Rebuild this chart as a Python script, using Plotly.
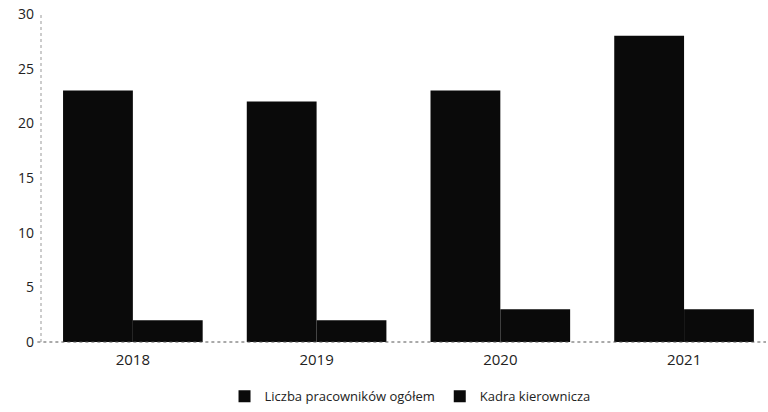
import plotly.graph_objects as go

years = ["2018", "2019", "2020", "2021"]
ogolem = [23, 22, 23, 28]
kadra = [2, 2, 3, 3]
y_ticks = [0, 5, 10, 15, 20, 25, 30]

fig = go.Figure()
fig.add_trace(go.Bar(name="Liczba pracowników ogółem", x=years, y=ogolem,
                     marker=dict(color="#0a0a0a", line=dict(width=0))))
fig.add_trace(go.Bar(name="Kadra kierownicza", x=years, y=kadra,
                     marker=dict(color="#0a0a0a", line=dict(width=0))))

fig.update_layout(
    width=768, height=412,
    margin=dict(l=41, r=2, t=14, b=70, autoexpand=False),
    paper_bgcolor="white", plot_bgcolor="white",
    barmode="group", bargap=0.24, bargroupgap=0,
    font=dict(family="Open Sans", size=13, color="#222"),
    showlegend=True,
    legend=dict(orientation="h", x=0.509, xanchor="center", y=-0.12, yanchor="top",
                font=dict(size=13, color="#222"), itemwidth=30),
    xaxis=dict(type="category", range=[-0.5, 3.446], showgrid=False,
               showline=False, ticks="", tickfont=dict(size=15),
               ticklabelstandoff=7, automargin=False),
    yaxis=dict(range=[0, 30], tickvals=y_ticks, showgrid=False, zeroline=False,
               showline=False, ticks="", tickfont=dict(size=14),
               ticklabelstandoff=6, automargin=False),
    shapes=[
        dict(type="line", xref="paper", yref="paper", x0=0, x1=0, y0=0, y1=1,
             line=dict(color="#999", width=1, dash="dot")),
        dict(type="line", xref="paper", yref="paper", x0=-0.005, x1=1, y0=0, y1=0,
             line=dict(color="#555", width=1, dash="dot")),
    ],
)
fig.write_html("out.html", config={"displayModeBar": False},
               post_script="document.body.style.margin='0';")
